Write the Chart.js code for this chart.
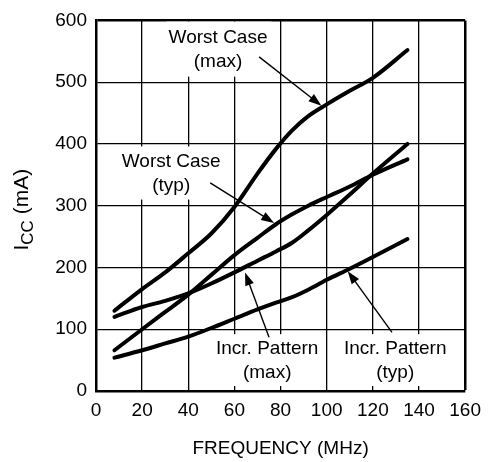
<!DOCTYPE html>
<html>
<head>
<meta charset="utf-8">
<script src="https://cdn.jsdelivr.net/npm/chart.js@4.4.0/dist/chart.umd.min.js"></script>
<style>
  html, body { margin: 0; padding: 0; background: #fff; }
  #wrap { width: 489px; height: 462px; }
</style>
</head>
<body>
<div id="wrap"><canvas id="chart" width="489" height="462"></canvas></div>
<script>
const freq = [8, 20, 30, 40, 50, 60, 70, 78, 85, 92, 100, 110, 120, 135];

// supply current (mA) for each curve
const worstCaseMax = [130, 165, 192, 223, 255, 298, 352, 392, 422, 445, 464, 486, 507, 552];
const incrPatternMax = [120, 136, 146, 158, 174, 192, 211, 226, 240, 260, 285, 318, 352, 400];
const worstCaseTyp = [66, 100, 128, 156, 188, 220, 248, 270, 286, 300, 314, 331, 350, 375];
const incrPatternTyp = [54, 66, 77, 88, 102, 117, 132, 143, 152, 164, 180, 198, 217, 246];

const xTicks = [0, 20, 40, 60, 80, 100, 120, 140, 160];
const yTicks = [0, 100, 200, 300, 400, 500, 600];

const FONT = '"Liberation Sans", Arial, Helvetica, sans-serif';

// callout labels: text, centre (data units), white box behind it, arrow from -> to
const callouts = [
  { text: ['Worst Case', '(max)'], at: [52.9, 552], box: [30.5, 76, 509, 598], from: [70.7, 541], to: [97.7, 462] },
  { text: ['Worst Case', '(typ)'], at: [32.6, 351], box: [10, 55.5, 310, 396], from: [49.5, 337], to: [77.2, 272] },
  { text: ['Incr. Pattern', '(max)'], at: [74.2, 49.5], box: [51, 98, 8, 92], from: [75, 87], to: [64.6, 192] },
  { text: ['Incr. Pattern', '(typ)'], at: [129.7, 49.5], box: [106, 153.5, 8, 92], from: [128.3, 95], to: [109.1, 194] }
];

function toPoints(ys) {
  return freq.map((f, i) => ({ x: f, y: ys[i] }));
}

function line(data) {
  return {
    data: toPoints(data),
    borderColor: '#000',
    borderWidth: 4,
    pointRadius: 0,
    fill: false,
    cubicInterpolationMode: 'monotone',
    borderCapStyle: 'round'
  };
}

function arrow(ctx, x1, y1, x2, y2) {
  const ang = Math.atan2(y2 - y1, x2 - x1);
  const len = 13, half = 4.5;
  ctx.beginPath();
  ctx.moveTo(x1, y1);
  ctx.lineTo(x2 - Math.cos(ang) * len * 0.8, y2 - Math.sin(ang) * len * 0.8);
  ctx.lineWidth = 1.4;
  ctx.strokeStyle = '#000';
  ctx.stroke();
  ctx.beginPath();
  ctx.moveTo(x2, y2);
  ctx.lineTo(x2 - Math.cos(ang) * len - Math.sin(ang) * half, y2 - Math.sin(ang) * len + Math.cos(ang) * half);
  ctx.lineTo(x2 - Math.cos(ang) * len + Math.sin(ang) * half, y2 - Math.sin(ang) * len - Math.cos(ang) * half);
  ctx.closePath();
  ctx.fillStyle = '#000';
  ctx.fill();
}

const calloutPlugin = {
  id: 'callouts',
  beforeDatasetsDraw(chart) {
    const { ctx, scales: { x, y } } = chart;
    ctx.save();
    // white boxes break the grid behind the labels
    callouts.forEach(c => {
      const [x0, x1, y0, y1] = c.box;
      ctx.fillStyle = '#fff';
      ctx.fillRect(x.getPixelForValue(x0), y.getPixelForValue(y1),
        x.getPixelForValue(x1) - x.getPixelForValue(x0),
        y.getPixelForValue(y0) - y.getPixelForValue(y1));
    });
    ctx.font = '19px ' + FONT;
    ctx.fillStyle = '#000';
    ctx.textAlign = 'center';
    ctx.textBaseline = 'middle';
    callouts.forEach(c => {
      const cx = x.getPixelForValue(c.at[0]);
      const cy = y.getPixelForValue(c.at[1]);
      ctx.fillText(c.text[0], cx, cy - 12);
      ctx.fillText(c.text[1], cx, cy + 12);
    });
    ctx.restore();
  },
  afterDatasetsDraw(chart) {
    const { ctx, scales: { x, y } } = chart;
    ctx.save();
    callouts.forEach(c => {
      arrow(ctx, x.getPixelForValue(c.from[0]), y.getPixelForValue(c.from[1]),
        x.getPixelForValue(c.to[0]), y.getPixelForValue(c.to[1]));
    });
    ctx.restore();
  },
  afterDraw(chart) {
    // y axis title with subscript: I_CC (mA)
    const { ctx, chartArea } = chart;
    const cy = (chartArea.top + chartArea.bottom) / 2 + 4;
    ctx.save();
    ctx.translate(22, cy);
    ctx.rotate(-Math.PI / 2);
    ctx.fillStyle = '#000';
    ctx.textBaseline = 'middle';
    ctx.textAlign = 'left';
    const big = '21px ' + FONT, small = '17px ' + FONT;
    ctx.font = big;
    const wI = ctx.measureText('I').width;
    const wRest = ctx.measureText(' (mA)').width;
    ctx.font = small;
    const wCC = ctx.measureText('CC').width;
    let px = -(wI + wCC + wRest) / 2;
    ctx.font = big;
    ctx.fillText('I', px, 0);
    px += wI;
    ctx.font = small;
    ctx.fillText('CC', px, 6);
    px += wCC;
    ctx.font = big;
    ctx.fillText(' (mA)', px, 0);
    ctx.restore();
  }
};

new Chart(document.getElementById('chart'), {
  type: 'line',
  data: {
    datasets: [
      line(worstCaseMax),
      line(incrPatternMax),
      line(worstCaseTyp),
      line(incrPatternTyp)
    ]
  },
  options: {
    responsive: false,
    animation: false,
    layout: { padding: { top: 15, right: 18, left: 0, bottom: 0 } },
    plugins: {
      legend: { display: false },
      tooltip: { enabled: false }
    },
    scales: {
      x: {
        type: 'linear',
        min: 0,
        max: 160,
        afterBuildTicks: (scale) => { scale.ticks = xTicks.map(v => ({ value: v })); },
        afterFit: (scale) => { scale.height = 71; },
        ticks: { color: '#000', font: { family: FONT, size: 19 }, padding: 8, maxRotation: 0 },
        grid: {
          color: '#000',
          lineWidth: (c) => (c.tick && c.tick.value === 160 ? 2.5 : 1.3),
          drawTicks: false
        },
        border: { display: true, color: '#000', width: 2.5 },
        title: {
          display: true,
          text: 'FREQUENCY (MHz)',
          color: '#000',
          font: { family: FONT, size: 19 },
          padding: { top: 0, bottom: 2 }
        }
      },
      y: {
        min: 0,
        max: 600,
        afterBuildTicks: (scale) => { scale.ticks = yTicks.map(v => ({ value: v })); },
        afterFit: (scale) => { scale.width = 96; },
        ticks: { color: '#000', font: { family: FONT, size: 19 }, padding: 9 },
        grid: {
          color: '#000',
          lineWidth: (c) => (c.tick && c.tick.value === 600 ? 2.5 : 1.3),
          drawTicks: false
        },
        border: { display: true, color: '#000', width: 2.5 }
      }
    }
  },
  plugins: [calloutPlugin]
});
</script>
</body>
</html>
